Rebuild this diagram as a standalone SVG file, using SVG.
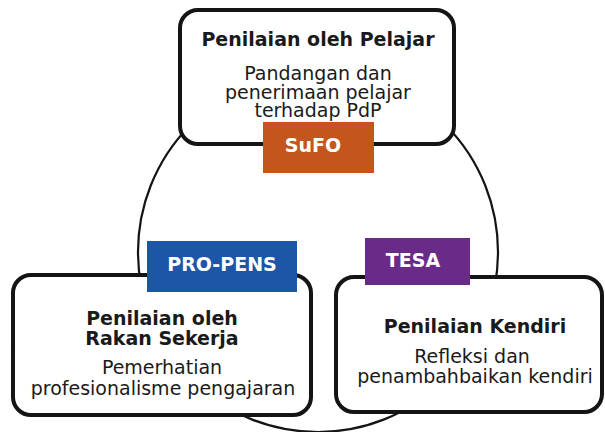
<svg xmlns="http://www.w3.org/2000/svg" width="605" height="432" viewBox="0 0 605 432">
<style>
.box{fill:#fff;stroke:#141414;stroke-width:4}
.ring{fill:none;stroke:#141414;stroke-width:2.2}
.t{font-family:"DejaVu Sans",Verdana,sans-serif;text-anchor:middle;fill:#1a1a1a}
.b{font-weight:bold;font-size:19px}
.r{font-size:19px}
.lab{font-family:"DejaVu Sans",Verdana,sans-serif;text-anchor:middle;fill:#fff;font-weight:bold;font-size:19px}
</style>
<rect width="605" height="432" fill="#fff"/>
<g id="connectors">
<circle class="ring" cx="318" cy="252" r="180"/>
</g>
<g id="node-pelajar">
<rect class="box" x="180" y="10" width="274" height="134" rx="18"/>
<text class="t b" x="318" y="46">Penilaian oleh Pelajar</text>
<text class="t r" x="318" y="80">Pandangan dan</text>
<text class="t r" x="318" y="99">penerimaan pelajar</text>
<text class="t r" x="318" y="117">terhadap PdP</text>
</g>
<g id="node-rakan">
<rect class="box" x="13" y="275" width="298" height="140" rx="18"/>
<text class="t b" x="162" y="325">Penilaian oleh</text>
<text class="t b" x="162" y="345">Rakan Sekerja</text>
<text class="t r" x="162" y="374">Pemerhatian</text>
<text class="t r" x="163" y="395">profesionalisme pengajaran</text>
</g>
<g id="node-kendiri">
<rect class="box" x="336" y="277" width="266" height="135" rx="18"/>
<text class="t b" x="475" y="333">Penilaian Kendiri</text>
<text class="t r" x="472" y="363">Refleksi dan</text>
<text class="t r" x="475" y="383">penambahbaikan kendiri</text>
</g>
<g id="label-sufo">
<rect x="263" y="122" width="111" height="51" fill="#C4561D"/>
<text class="lab" x="313" y="152">SuFO</text>
</g>
<g id="label-propens">
<rect x="147" y="241" width="150" height="51" fill="#1D56A6"/>
<text class="lab" x="222" y="271">PRO-PENS</text>
</g>
<g id="label-tesa">
<rect x="365" y="238" width="105" height="47" fill="#6A2B88"/>
<text class="lab" x="413" y="267">TESA</text>
</g>
</svg>
